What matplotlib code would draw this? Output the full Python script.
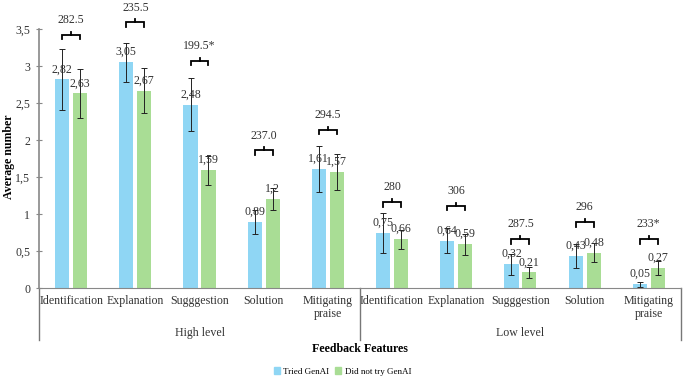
import numpy as np
import matplotlib
matplotlib.use('Agg')
from matplotlib import pyplot as plt
from matplotlib.transforms import blended_transform_factory
from matplotlib.patches import Patch

plt.rcParams['font.family'] = 'Liberation Serif'

# Data
features = ['Identification', 'Explanation', 'Sugggestion', 'Solution', 'Mitigating\npraise']
groups = ['High level', 'Low level']
categories = features + features

tried = [2.82, 3.05, 2.48, 0.89, 1.61, 0.75, 0.64, 0.32, 0.43, 0.05]
tried_err = [0.41, 0.26, 0.36, 0.16, 0.31, 0.27, 0.17, 0.14, 0.16, 0.03]
not_tried = [2.63, 2.67, 1.59, 1.20, 1.57, 0.66, 0.59, 0.21, 0.48, 0.27]
not_tried_err = [0.33, 0.31, 0.20, 0.15, 0.24, 0.13, 0.14, 0.07, 0.13, 0.10]
test_stats = ['282.5', '235.5', '199.5*', '237.0', '294.5', '280', '306', '287.5', '296', '233*']

# bracket heights (layout)
bracket_y = [3.42, 3.59, 3.07, 1.86, 2.14, 1.16, 1.11, 0.66, 0.89, 0.66]

BLUE = '#8fd6f4'
GREEN = '#a9dd95'
FS = 8.6
TXT = '#333333'

fig = plt.figure(figsize=(6.85, 3.83), dpi=100)
ax = fig.add_axes([0.057, 0.248, 0.937, 0.676])

x = np.arange(len(categories))
w = 0.22
off = 0.14

ax.bar(x - off, tried, w, color=BLUE, yerr=tried_err, capsize=2,
       error_kw=dict(elinewidth=0.7, capthick=0.7, ecolor='#222222'))
ax.bar(x + off, not_tried, w, color=GREEN, yerr=not_tried_err, capsize=2,
       error_kw=dict(elinewidth=0.7, capthick=0.7, ecolor='#222222'))

def lab(v):
    s = f"{v:.2f}"
    if s.endswith('0'):
        s = s[:-1]
    return s.replace('.', ',')

for i in range(len(x)):
    ax.annotate(lab(tried[i]), (x[i] - off, tried[i]), xytext=(0, 3),
                textcoords='offset points', ha='center', va='bottom', fontsize=FS, color=TXT)
    ax.annotate(lab(not_tried[i]), (x[i] + off, not_tried[i]), xytext=(0, 3),
                textcoords='offset points', ha='center', va='bottom', fontsize=FS, color=TXT)
    # bracket
    h = bracket_y[i]
    x0, x1 = x[i] - off, x[i] + off
    ax.plot([x0, x0, x1, x1], [h - 0.06, h, h, h - 0.06], color='black', lw=1.3,
            clip_on=False, solid_joinstyle='miter')
    ax.plot([x[i], x[i]], [h, h + 0.04], color='black', lw=1.3, clip_on=False)
    ax.text(x[i], h + 0.12, test_stats[i], ha='center', va='bottom', fontsize=FS, color=TXT)

ax.set_xlim(-0.5, len(x) - 0.5)
ax.set_ylim(0, 3.5)
ticks = np.arange(0, 3.51, 0.5)
ax.set_yticks(ticks)
ax.set_yticklabels([f"{t:g}".replace('.', ',') for t in ticks], fontsize=FS, color=TXT)
ax.tick_params(axis='y', direction='inout', length=5, color='#888888', pad=4)
ax.set_xticks(x)
ax.set_xticklabels(categories, fontsize=FS, color=TXT, linespacing=1.1)
ax.tick_params(axis='x', length=0, pad=5)
for s in ['top', 'right']:
    ax.spines[s].set_visible(False)
ax.spines['left'].set_color('#888888')
ax.spines['bottom'].set_color('#888888')
ax.spines['left'].set_linewidth(1.2)

# group separators and group labels
tr = blended_transform_factory(ax.transData, ax.transAxes)
for xs in [-0.5, 4.5, 9.5]:
    ax.plot([xs, xs], [0, -0.2], color='#777777', lw=1.0, transform=tr, clip_on=False)
for gi, g in enumerate(groups):
    ax.text(gi * 5 + 2, -0.175, g, transform=tr, ha='center', va='center', fontsize=FS, color=TXT)

fig.text(0.013, 0.59, 'Average number', rotation=90, ha='center', va='center',
         fontsize=FS, fontweight='bold')
fig.text(0.525, 0.09, 'Feedback Features', ha='center', va='center', fontsize=FS, fontweight='bold')

handles = [Patch(color=BLUE), Patch(color=GREEN)]
fig.legend(handles, ['Tried GenAI', 'Did not try GenAI'], loc='center', bbox_to_anchor=(0.5, 0.03),
           ncol=2, frameon=False, fontsize=6.5, handlelength=0.7, handleheight=0.7,
           handletextpad=0.4, columnspacing=0.6)

fig.savefig('out.png', dpi=100)
